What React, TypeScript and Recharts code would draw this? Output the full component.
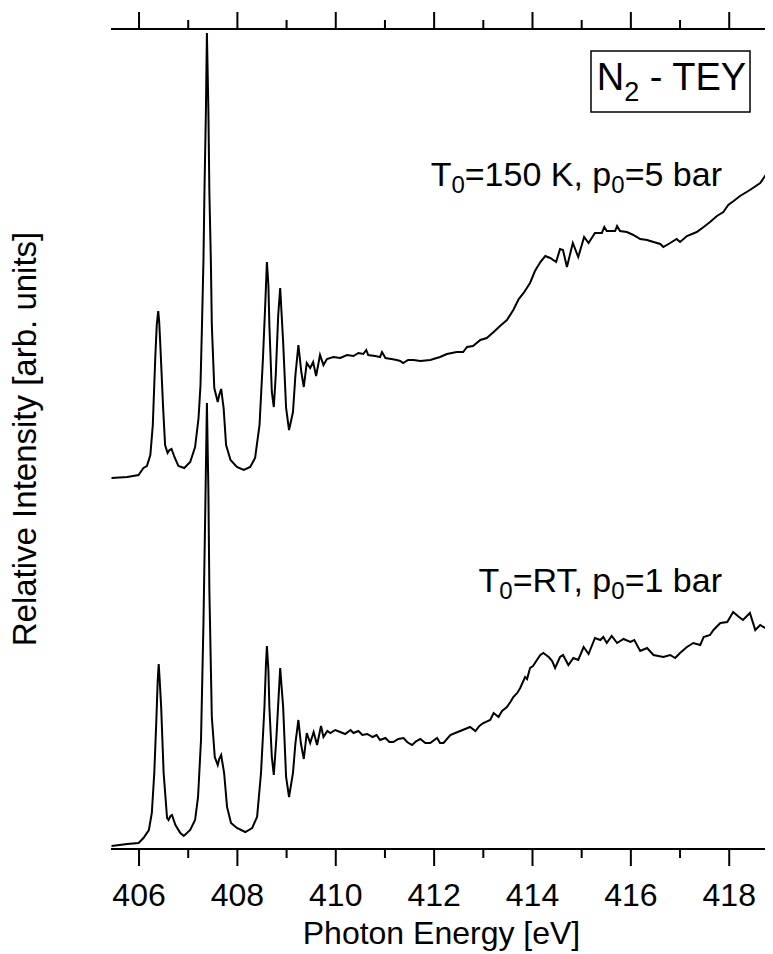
import { LineChart, Line, XAxis, YAxis } from 'recharts'

// N2 TEY spectra, photon energy in eV, intensity in arb. units (curves offset)
const coldEnergy = [
  405.44, 405.76, 405.99, 406.09, 406.16, 406.23, 406.28, 406.33, 406.36, 406.39,
  406.41, 406.43, 406.49, 406.53, 406.58, 406.62, 406.66, 406.72, 406.8, 406.92,
  407.04, 407.14, 407.21, 407.25, 407.28, 407.31, 407.33, 407.36, 407.38, 407.41,
  407.43, 407.46, 407.48, 407.53, 407.6, 407.63, 407.67, 407.72, 407.77, 407.86,
  407.99, 408.13, 408.26, 408.36, 408.45, 408.52, 408.57, 408.6, 408.63, 408.65,
  408.7, 408.74, 408.78, 408.83, 408.87, 408.93, 408.99, 409.05, 409.13, 409.18,
  409.24, 409.3, 409.35, 409.41, 409.48, 409.54, 409.6, 409.68, 409.75, 409.82,
  409.95, 410.09, 410.23, 410.36, 410.46, 410.56, 410.62, 410.66, 410.8, 410.9,
  410.94, 411.01, 411.13, 411.24, 411.31, 411.37, 411.47, 411.58, 411.72, 411.92,
  412.12, 412.26, 412.46, 412.59, 412.67, 412.79, 412.94, 413.07, 413.21, 413.34,
  413.48, 413.61, 413.72, 413.82, 413.95, 414.05, 414.16, 414.26, 414.36, 414.48,
  414.56, 414.62, 414.7, 414.82, 414.93, 415.05, 415.14, 415.27, 415.41, 415.46,
  415.51, 415.68, 415.72, 415.78, 415.92, 416.05, 416.19, 416.33, 416.46, 416.6,
  416.66, 416.8, 416.93, 417.0, 417.14, 417.34, 417.48, 417.61, 417.75, 417.88,
  417.98, 418.09, 418.22, 418.42, 418.63, 418.77, 418.89,
]
const coldIntensity = [
  3.71, 3.72, 3.74, 3.81, 3.83, 3.94, 4.24, 4.91, 5.24, 5.38,
  5.27, 5.07, 4.41, 4.04, 3.96, 3.99, 4.0, 3.92, 3.83, 3.81,
  3.87, 4.02, 4.31, 4.64, 5.24, 5.89, 6.57, 7.39, 8.16, 7.39,
  6.57, 5.89, 5.24, 4.61, 4.47, 4.54, 4.6, 4.41, 4.04, 3.89,
  3.82, 3.79, 3.82, 3.91, 4.24, 4.91, 5.49, 5.87, 5.64, 5.24,
  4.57, 4.42, 4.74, 5.34, 5.61, 5.07, 4.41, 4.19, 4.37, 4.74,
  5.04, 4.77, 4.62, 4.86, 4.81, 4.87, 4.73, 4.94, 4.84, 4.9,
  4.92, 4.91, 4.94, 4.93, 4.96, 4.95, 4.99, 4.94, 4.93, 4.92,
  4.97, 4.91, 4.9, 4.89, 4.88, 4.86, 4.89, 4.89, 4.88, 4.89,
  4.92, 4.95, 4.97, 4.97, 5.02, 5.03, 5.09, 5.11, 5.17, 5.23,
  5.29, 5.39, 5.5, 5.56, 5.66, 5.78, 5.87, 5.93, 5.91, 5.87,
  6.0, 5.99, 5.82, 6.06, 5.92, 6.12, 6.06, 6.16, 6.16, 6.22,
  6.18, 6.18, 6.23, 6.18, 6.17, 6.14, 6.1, 6.09, 6.07, 6.05,
  6.02, 6.06, 6.1, 6.07, 6.13, 6.17, 6.22, 6.27, 6.33, 6.37,
  6.44, 6.48, 6.53, 6.59, 6.66, 6.76, 6.81,
]

const rtEnergy = [
  405.44, 405.76, 405.99, 406.09, 406.2, 406.26, 406.31, 406.35, 406.38, 406.4,
  406.42, 406.45, 406.5, 406.57, 406.6, 406.64, 406.67, 406.74, 406.84, 406.91,
  407.04, 407.14, 407.2, 407.26, 407.31, 407.35, 407.38, 407.41, 407.43, 407.48,
  407.54, 407.6, 407.63, 407.67, 407.73, 407.79, 407.87, 407.99, 408.16, 408.3,
  408.4, 408.48, 408.55, 408.58, 408.6, 408.63, 408.65, 408.7, 408.74, 408.79,
  408.87, 408.93, 408.99, 409.05, 409.13, 409.18, 409.24, 409.29, 409.35, 409.41,
  409.48, 409.55, 409.62, 409.7, 409.75, 409.83, 409.89, 409.99, 410.09, 410.19,
  410.3, 410.36, 410.46, 410.54, 410.64, 410.75, 410.83, 410.9, 411.01, 411.09,
  411.17, 411.27, 411.38, 411.45, 411.55, 411.64, 411.72, 411.82, 411.92, 412.06,
  412.12, 412.19, 412.33, 412.43, 412.53, 412.63, 412.73, 412.84, 412.92, 413.0,
  413.14, 413.21, 413.31, 413.38, 413.48, 413.55, 413.61, 413.69, 413.75, 413.85,
  413.89, 413.95, 414.01, 414.09, 414.16, 414.22, 414.33, 414.4, 414.46, 414.56,
  414.62, 414.73, 414.83, 414.93, 415.04, 415.14, 415.27, 415.38, 415.44, 415.51,
  415.61, 415.72, 415.85, 415.99, 416.07, 416.19, 416.33, 416.46, 416.56, 416.66,
  416.8, 416.9, 417.0, 417.14, 417.27, 417.41, 417.48, 417.61, 417.68, 417.82,
  417.96, 418.08, 418.2, 418.28, 418.42, 418.53, 418.63, 418.73, 418.84, 418.89,
]
const rtIntensity = [
  0.03, 0.05, 0.06, 0.11, 0.19, 0.36, 0.76, 1.26, 1.69, 1.85,
  1.69, 1.42, 0.76, 0.31, 0.29, 0.33, 0.34, 0.24, 0.16, 0.13,
  0.19, 0.29, 0.52, 1.09, 2.26, 3.49, 4.46, 3.59, 2.59, 1.32,
  0.92, 0.84, 0.9, 0.94, 0.76, 0.42, 0.26, 0.21, 0.17, 0.21,
  0.32, 0.76, 1.42, 1.84, 2.03, 1.79, 1.42, 0.92, 0.74, 1.09,
  1.81, 1.42, 0.72, 0.52, 0.76, 1.06, 1.29, 1.06, 0.9, 1.16,
  1.06, 1.17, 1.04, 1.23, 1.12, 1.18, 1.16, 1.19, 1.17, 1.15,
  1.19, 1.16, 1.18, 1.14, 1.15, 1.12, 1.14, 1.09, 1.11, 1.07,
  1.07, 1.1, 1.11, 1.07, 1.04, 1.08, 1.1, 1.06, 1.06, 1.11,
  1.06, 1.06, 1.14, 1.16, 1.18, 1.2, 1.22, 1.18, 1.23, 1.26,
  1.29, 1.36, 1.32, 1.38, 1.42, 1.47, 1.52, 1.56, 1.61, 1.72,
  1.7, 1.81, 1.83, 1.89, 1.94, 1.96, 1.92, 1.88, 1.81, 1.92,
  1.94, 1.84, 1.91, 1.89, 2.02, 1.95, 2.11, 2.09, 2.12, 2.06,
  2.13, 2.06, 2.1, 2.07, 2.09, 1.98, 2.01, 1.94, 1.93, 1.92,
  1.94, 1.91, 1.96, 2.02, 2.06, 2.04, 2.12, 2.14, 2.19, 2.26,
  2.27, 2.37, 2.32, 2.29, 2.36, 2.19, 2.24, 2.21, 2.27, 2.26,
]

const energyTicks = [406, 407, 408, 409, 410, 411, 412, 413, 414, 415, 416, 417, 418]

const FONT = '"Liberation Sans", Arial, Helvetica, sans-serif'
const W = 765
const H = 946

const coldData = coldEnergy.map((e, i) => ({ e, v: coldIntensity[i] }))
const rtData = rtEnergy.map((e, i) => ({ e, v: rtIntensity[i] }))

const isMajor = (v: number) => Math.round(v) % 2 === 0

// even energies get a long tick and a label, odd ones a short tick
function BottomTick({ x, y, payload }: any) {
  const major = isMajor(payload.value)
  return (
    <g>
      <line x1={x} x2={x} y1={y} y2={y + (major ? 17 : 9)} stroke="#000" strokeWidth={2} />
      {major && (
        <text x={x} y={y + 57} textAnchor="middle" fontSize={32} fontFamily={FONT} fill="#000">
          {payload.value}
        </text>
      )}
    </g>
  )
}

function TopTick({ x, y, payload }: any) {
  const major = isMajor(payload.value)
  return <line x1={x} x2={x} y1={y} y2={y - (major ? 17 : 9)} stroke="#000" strokeWidth={2} />
}

export default function App() {
  return (
    <div style={{ position: 'relative', width: W, height: H, fontFamily: FONT }}>
      <LineChart width={W} height={H} margin={{ top: 1, right: 0, bottom: 0, left: 103 }}>
        <XAxis
          xAxisId="bottom"
          type="number"
          dataKey="e"
          domain={[405.43, 418.89]}
          allowDataOverflow
          ticks={energyTicks}
          interval={0}
          height={105}
          tickSize={0}
          tickMargin={0}
          tickLine={false}
          axisLine={{ stroke: '#000', strokeWidth: 2 }}
          tick={<BottomTick />}
        />
        <XAxis
          xAxisId="top"
          orientation="top"
          type="number"
          dataKey="e"
          domain={[405.43, 418.89]}
          allowDataOverflow
          ticks={energyTicks}
          interval={0}
          height={20}
          tickSize={0}
          tickMargin={0}
          tickLine={false}
          axisLine={{ stroke: '#000', strokeWidth: 2 }}
          tick={<TopTick />}
        />
        <YAxis
          type="number"
          domain={[0, 8.2]}
          allowDataOverflow
          width={0}
          tick={false}
          tickLine={false}
          axisLine={{ stroke: '#000', strokeWidth: 2 }}
        />
        <Line
          xAxisId="bottom"
          data={coldData}
          dataKey="v"
          type="linear"
          stroke="#000"
          strokeWidth={2}
          dot={false}
          activeDot={false}
          isAnimationActive={false}
        />
        <Line
          xAxisId="bottom"
          data={rtData}
          dataKey="v"
          type="linear"
          stroke="#000"
          strokeWidth={2}
          dot={false}
          activeDot={false}
          isAnimationActive={false}
        />
      </LineChart>

      <svg
        width={W}
        height={H}
        style={{ position: 'absolute', left: 0, top: 0, pointerEvents: 'none', overflow: 'visible' }}
        fontFamily={FONT}
        fill="#000"
      >
        <text x={433.5} y={936} textAnchor="middle" fontSize={32}>
          Photon Energy [eV]
        </text>
        <text x={28} y={431} textAnchor="middle" fontSize={33} transform="rotate(-90 28 431)">
          Relative Intensity [arb. units]
        </text>

        <rect x={583} y={43} width={159} height={61} fill="none" stroke="#000" strokeWidth={1.5} />
        <text x={588.7} y={82} fontSize={38}>
          N<tspan dy={11} fontSize={27}>2</tspan>
          <tspan dy={-11}> - TEY</tspan>
        </text>

        <text x={714} y={178} textAnchor="end" fontSize={34}>
          T<tspan dy={7} fontSize={24}>0</tspan>
          <tspan dy={-7}>=150 K, p</tspan>
          <tspan dy={7} fontSize={24}>0</tspan>
          <tspan dy={-7}>=5 bar</tspan>
        </text>
        <text x={714} y={584} textAnchor="end" fontSize={34}>
          T<tspan dy={7} fontSize={24}>0</tspan>
          <tspan dy={-7}>=RT, p</tspan>
          <tspan dy={7} fontSize={24}>0</tspan>
          <tspan dy={-7}>=1 bar</tspan>
        </text>
      </svg>
    </div>
  )
}
